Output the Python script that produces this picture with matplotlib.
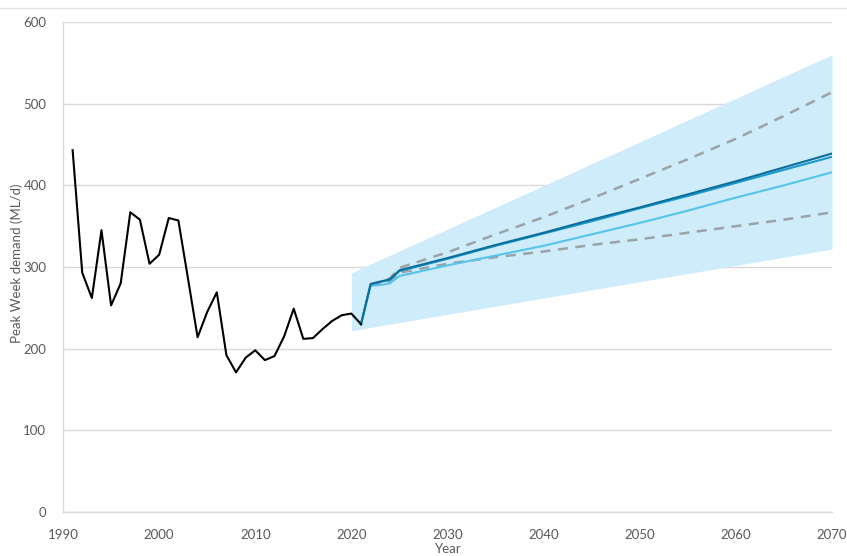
import matplotlib.pyplot as plt
from matplotlib.lines import Line2D

# Historical peak week demand (ML/d)
hist_years = list(range(1991, 2022))
hist_values = [443, 293, 262, 345, 253, 280, 367, 358, 304, 315, 360, 357,
               286, 214, 245, 269, 192, 171, 189, 198, 186, 191, 215, 249,
               212, 213, 224, 234, 241, 243, 230]

# Forecast scenarios
fc_years = [2021, 2022, 2023, 2024, 2025, 2030, 2035, 2040, 2045, 2050, 2055, 2060, 2065, 2070]
fc_dark = [230, 279, 282, 285, 296, 311, 327, 342, 358, 373, 389, 405, 422, 439]
fc_mid = [230, 279, 282, 284, 295, 310, 326, 341, 356, 372, 387, 403, 419, 435]
fc_light = [230, 277, 278, 280, 289, 302, 314, 326, 340, 354, 369, 385, 400, 416]

dash_years = [2022, 2023, 2024, 2025, 2030, 2035, 2040, 2045, 2050, 2055, 2060, 2065, 2070]
dash_high = [279, 282, 286, 299, 318, 340, 361, 384, 408, 432, 457, 485, 514]
dash_low = [278, 280, 283, 293, 304, 312, 319, 327, 334, 342, 350, 358, 367]

# Uncertainty envelope
band_years = [2020, 2070]
band_low = [222, 322]
band_high = [293, 560]

FONT = ['Liberation Sans Narrow', 'Lato', 'DejaVu Sans']
TEXT_COLOR = '#595959'
GRID_COLOR = '#d9d9d9'

fig = plt.figure(figsize=(8.47, 5.56), dpi=100)
ax = fig.add_axes([0.0744, 0.0791, 0.9079, 0.8813])

ax.fill_between(band_years, band_low, band_high, color='#cfecfa', linewidth=0, zorder=1)

ax.plot(dash_years, dash_high, color='#9aa3a8', lw=1.8, ls=(0, (4, 3)), zorder=2)
ax.plot(dash_years, dash_low, color='#9aa3a8', lw=1.8, ls=(0, (4, 3)), zorder=2)

ax.plot(fc_years, fc_light, color='#55c5ec', lw=1.5, zorder=3)
ax.plot(fc_years, fc_mid, color='#1b9ad2', lw=1.5, zorder=3)
ax.plot(fc_years, fc_dark, color='#0d6e9a', lw=1.5, zorder=3)

ax.plot(hist_years, hist_values, color='black', lw=1.5, zorder=4)

ax.set_xlim(1990, 2070)
ax.set_ylim(0, 600)
ax.set_xticks(range(1990, 2071, 10))
ax.set_yticks(range(0, 601, 100))
ax.grid(axis='y', color=GRID_COLOR, lw=1)
ax.set_axisbelow(True)
ax.tick_params(length=0, colors=TEXT_COLOR, labelsize=9.5)
ax.tick_params(axis='y', pad=12)
ax.tick_params(axis='x', pad=12)
for lbl in ax.get_xticklabels() + ax.get_yticklabels():
    lbl.set_family(FONT)

for side in ['top', 'right']:
    ax.spines[side].set_visible(False)
for side in ['left', 'bottom']:
    ax.spines[side].set_color(GRID_COLOR)
    ax.spines[side].set_linewidth(1)

# axis titles placed in figure pixels so they stay inside the canvas
W, H = 847, 556
fig.text(448 / W, 1 - 549 / H, 'Year', color=TEXT_COLOR, fontsize=9.5, family=FONT,
         ha='center', va='center')
fig.text(17 / W, 1 - 263 / H, 'Peak Week demand (ML/d)', color=TEXT_COLOR, fontsize=9.5,
         family=FONT, ha='center', va='center', rotation=90)

# thin rule across the top of the figure
fig.add_artist(Line2D([0, 1], [0.986, 0.986], transform=fig.transFigure, color='#e3e3e3', lw=1))

fig.savefig('out.png', dpi=100)
